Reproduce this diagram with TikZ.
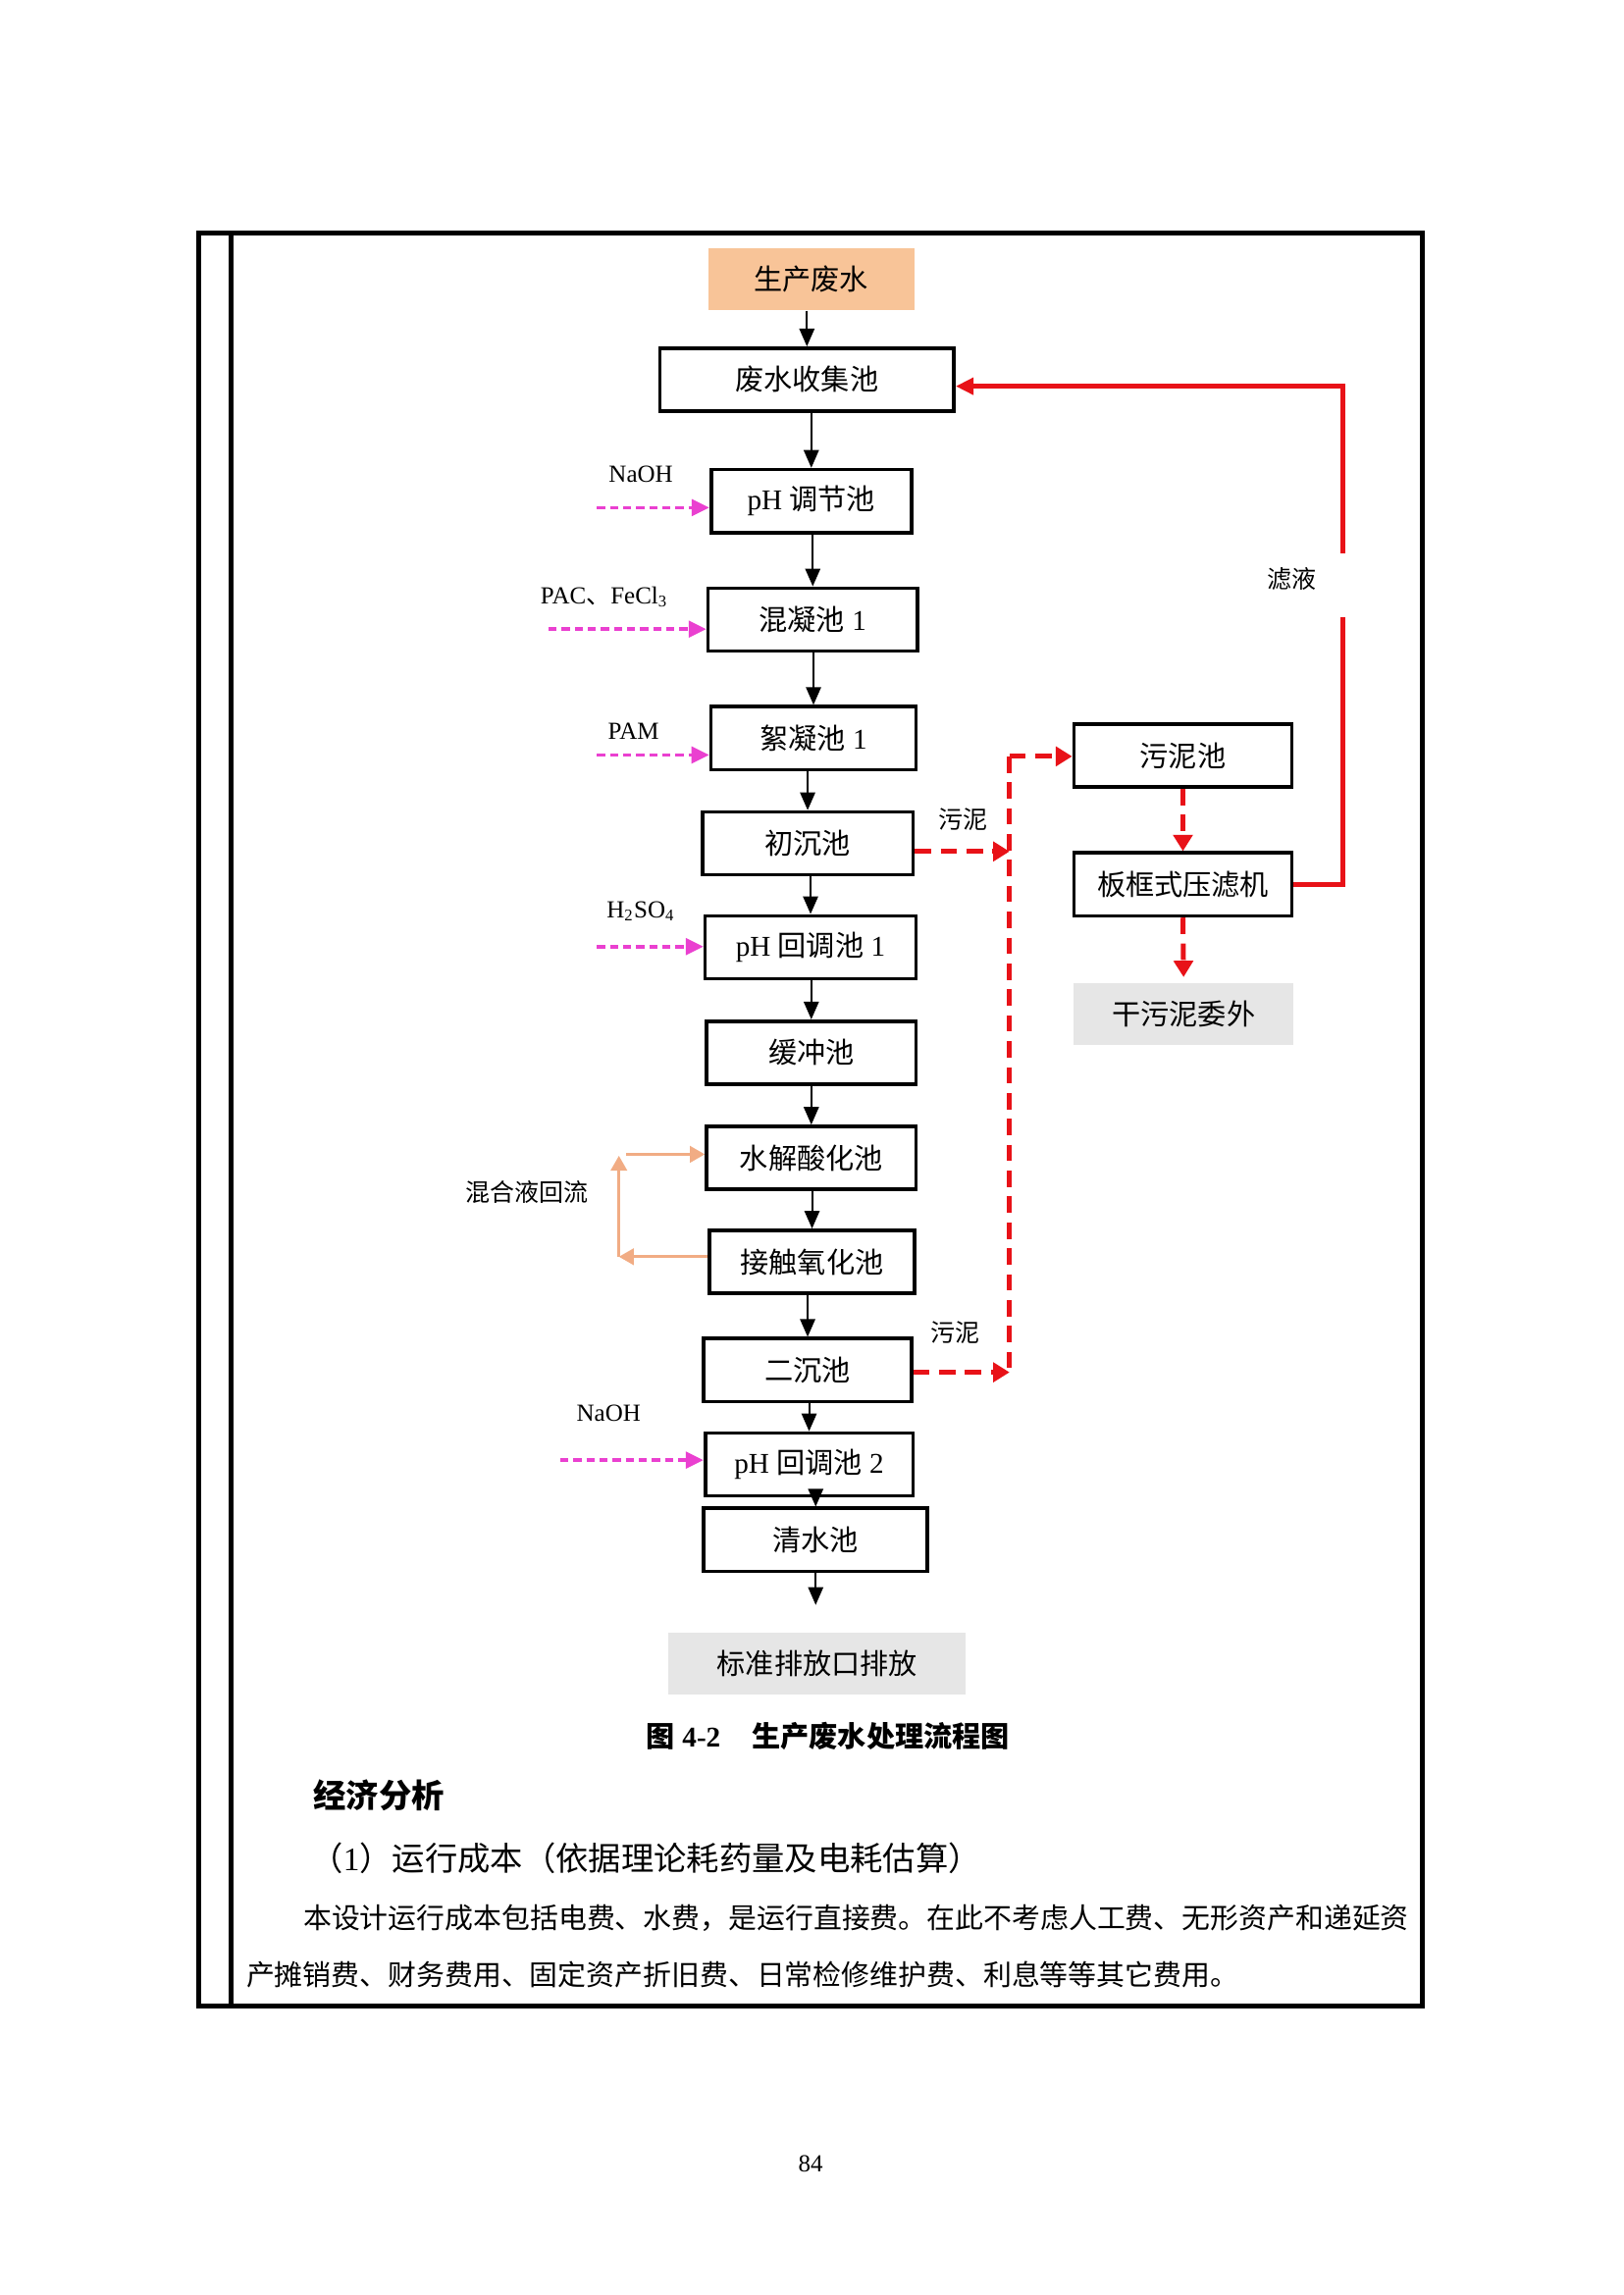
\documentclass[tikz,border=0pt]{standalone}
\usepackage{fontspec}
\setmainfont{Liberation Serif}
\newfontfamily\cjk{Noto Sans CJK SC}
\newcommand{\zh}[1]{{\cjk #1}}
\usetikzlibrary{arrows.meta}
\usetikzlibrary{positioning}
\usetikzlibrary{calc}
\definecolor{feedpink}{RGB}{234,64,208}
\definecolor{sludgered}{RGB}{232,18,24}
\definecolor{raworange}{RGB}{248,196,152}
\definecolor{backtan}{RGB}{241,172,132}
\definecolor{outgray}{RGB}{230,230,230}
\tikzstyle{tank}=[draw,line width=1.3pt,minimum height=23.1pt,inner sep=0pt,font=\fontsize{10.5}{12}\selectfont]
\tikzstyle{plainbox}=[minimum height=22.6pt,inner sep=0pt,font=\fontsize{10.5}{12}\selectfont]
\tikzstyle{note}=[inner sep=0pt,font=\fontsize{9}{10}\selectfont]
\tikzstyle{flow} = [draw,line width=0.7pt,-{Triangle[length=6.5pt,width=5.5pt]}]
\tikzstyle{dose} = [draw,feedpink,line width=1.3pt,dash pattern=on 3pt off 1.8pt,-{Triangle[length=6.5pt,width=6pt]}]
\tikzstyle{sludgeline} = [draw,sludgered,line width=1.8pt,dash pattern=on 6pt off 3.5pt]
\tikzstyle{sludge} = [sludgeline,-{Triangle[length=6pt,width=7pt]}]
\tikzstyle{filtrateline} = [draw,sludgered,line width=1.9pt]
\tikzstyle{filtrate} = [filtrateline,-{Triangle[length=6.5pt,width=6pt]}]
\tikzstyle{backflow} = [draw,backtan,line width=1pt,-{Triangle[length=5.5pt,width=6pt]}]

\begin{document}
\begin{tikzpicture}[x=0.5368pt,y=-0.5368pt]
  \useasboundingbox (0,0) rectangle (1109.3,1568.7);

  % frame of the page table
  \draw[line width=1.8pt] (136,159) rectangle (972,1371);
  \draw[line width=1.8pt] (158,159) -- (158,1371);

  % feed and discharge
  \node[plainbox,fill=raworange,minimum width=75.7pt] (src) at (554.5,191) {\zh{生产废水}};
  \node[plainbox,fill=outgray,minimum width=109pt] (out) at (558.5,1137) {\zh{标准排放口排放}};
  \node[plainbox,fill=outgray,minimum width=80.5pt] (gw) at (809,693) {\zh{干污泥委外}};

  % treatment tanks
  \foreach \pos/\name/\boxw/\txt in {{(551.5,259.5)/col/107.9pt/\zh{废水收集池}},
      {(554.5,342.5)/ph1/73.5pt/pH \zh{调节池}},
      {(555.5,423.5)/hn/76.8pt/\zh{混凝池} 1},
      {(556,504.5)/xn/75.2pt/\zh{絮凝池} 1},
      {(552,576.5)/cc/77.3pt/\zh{初沉池}},
      {(554,647.5)/ph2/77.3pt/pH \zh{回调池} 1},
      {(554.5,719.5)/hc/76.8pt/\zh{缓冲池}},
      {(554.5,791.5)/sj/76.8pt/\zh{水解酸化池}},
      {(555,862.5)/jc/75.2pt/\zh{接触氧化池}},
      {(552,936.5)/ec/76.2pt/\zh{二沉池}},
      {(553,1001)/ph3/76.2pt/pH \zh{回调池} 2},
      {(557.5,1052.5)/qs/82.1pt/\zh{清水池}},
      {(808.5,516.5)/wn/80pt/\zh{污泥池}},
      {(808.5,604.5)/yl/80pt/\zh{板框式压滤机}}}
    \node[tank] [minimum width=\boxw] (\name) at \pos {\txt};

  % main water line
  \foreach \source/\dest in {src/col, col/ph1, ph1/hn, hn/xn, xn/cc, cc/ph2, ph2/hc,
      hc/sj, sj/jc, jc/ec, ec/ph3, ph3/qs}
    \path[flow] (\source.south -| \dest.north) -- (\dest.north);
  \coordinate (qend) at (557,1097);
  \path[flow] (qs.south) -- (qs.south |- qend);

  % chemical dosing
  \foreach \feed/\dest/\lpos/\chem in {{(408,347)/ph1/(438,324)/NaOH},
      {(375,430)/hn/(413,408)/PAC\zh{、}FeCl\textsubscript{3}},
      {(408,516)/xn/(433,500)/PAM},
      {(408,647)/ph2/(438,623)/H\textsubscript{2}SO\textsubscript{4}},
      {(383,998)/ph3/(416,966)/NaOH}}
  {
    \path \feed coordinate (dose\dest);
    \path[dose] (dose\dest) -- (\dest.west |- dose\dest);
    \path \lpos node[note] (chem\dest) {\chem};
  }

  % mixed liquor return
  \coordinate (b1) at (423,859);
  \coordinate (b2) at (423,790);
  \coordinate (b3) at (428,789);
  \path[backflow] (jc.west |- b1) -- (b1);
  \path[backflow] (b1) -- (b2);
  \path[backflow] (b3) -- (sj.west |- b3);
  \node[note] (ret) at (360,815) {\zh{混合液回流}};

  % sludge line
  \coordinate (s1) at (690,517);
  \coordinate (s2) at (690,582);
  \coordinate (s3) at (690,938);
  \path[sludgeline] (s1) -- (s3);
  \path[sludge] (cc.east |- s2) -- (s2);
  \path[sludge] (ec.east |- s3) -- (s3);
  \path[sludge] (s1) -- (wn.west |- s1);
  \path[sludge] (wn.south) -- (yl.north);
  \path[sludge, shorten >=2pt] (yl.south) -- (gw.north);
  \node[note] (sl1) at (658,560) {\zh{污泥}};
  \node[note] (sl2) at (653,911) {\zh{污泥}};

  % filtrate back to the collection tank
  \coordinate (rlow) at (918,422);
  \coordinate (rhigh) at (918,378);
  \coordinate (rtop) at (918,264);
  \path[filtrateline] (yl.east) -| (rlow);
  \path[filtrate] (rhigh) -- (rtop) -- (col.east |- rtop);
  \node[note] (fl) at (883,396) {\zh{滤液}};

  % caption and text below
  \node[inner sep=0pt,font=\fontsize{10.5}{12}\selectfont\bfseries] (cap) at (566,1187)
    {\zh{图} 4-2\hspace{1.1em}\zh{生产废水处理流程图}};
  \node[anchor=west,inner sep=0pt,font=\fontsize{12}{14}\selectfont\bfseries] (sec) at (214,1227)
    {\zh{经济分析}};
  \node[anchor=west,inner sep=0pt,font=\fontsize{12}{14}\selectfont] (sub) at (212,1270)
    {\zh{（}1\zh{）运行成本（依据理论耗药量及电耗估算）}};
  \node[anchor=west,inner sep=0pt,font=\fontsize{10.4}{13}\selectfont] (par1) at (207,1311)
    {\zh{本设计运行成本包括电费、水费，是运行直接费。在此不考虑人工费、无形资产和递延资}};
  \node[anchor=west,inner sep=0pt,font=\fontsize{10.4}{13}\selectfont] (par2) at (168,1350)
    {\zh{产摊销费、财务费用、固定资产折旧费、日常检修维护费、利息等等其它费用。}};
  \node[inner sep=0pt,font=\fontsize{9}{10}\selectfont] (pg) at (554,1479) {84};
\end{tikzpicture}
\end{document}
